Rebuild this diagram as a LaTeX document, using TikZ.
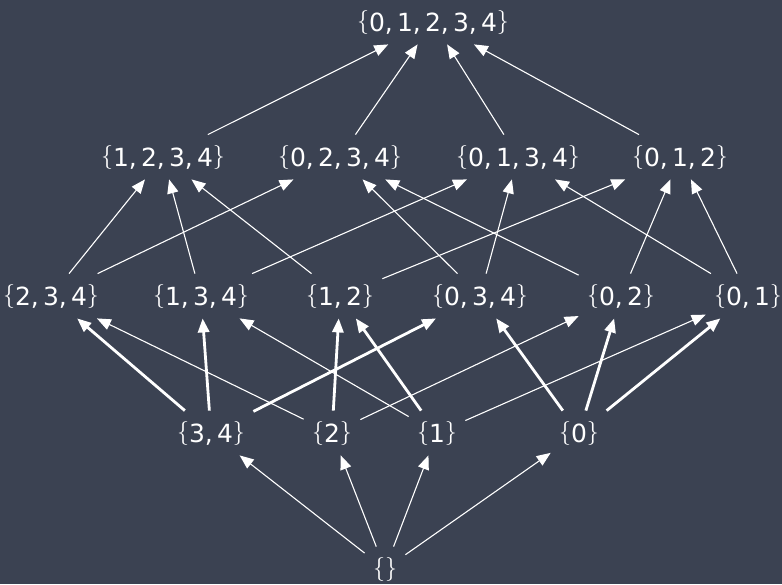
\documentclass[tikz,border=0pt]{standalone}
\usepackage{fontspec}
\setmainfont{DejaVu Sans}
\usetikzlibrary{arrows.meta}

\definecolor{bgslate}{HTML}{3B4252}
\newcommand{\sset}[1]{\raisebox{1.5pt}{$\{$}#1\raisebox{1.5pt}{$\}$}}

\begin{document}
\begin{tikzpicture}[
    x=0.5pt, y=-0.5pt,
    setnode/.style={rectangle, text=white, inner xsep=4pt, minimum height=22pt,
                    font=\fontsize{12.5}{14}\selectfont},
    arrow/.style={draw=white, line width=0.55pt, -{Triangle[length=7pt,width=5.6pt]}},
    heavy/.style={arrow, line width=1.4pt}
]
\useasboundingbox[fill=bgslate] (0,0) rectangle (782,584);

\node[setnode] (s01234) at (433,22) {\sset{0,\,1,\,2,\,3,\,4}};

\node[setnode] (s1234) at (163,157) {\sset{1,\,2,\,3,\,4}};
\node[setnode] (s0234) at (340,157) {\sset{0,\,2,\,3,\,4}};
\node[setnode] (s0134) at (518,157) {\sset{0,\,1,\,3,\,4}};
\node[setnode] (s012)  at (680,157) {\sset{0,\,1,\,2}};

\node[setnode] (s234) at (51,296)  {\sset{2,\,3,\,4}};
\node[setnode] (s134) at (201,296) {\sset{1,\,3,\,4}};
\node[setnode] (s12)  at (340,296) {\sset{1,\,2}};
\node[setnode] (s034) at (480,296) {\sset{0,\,3,\,4}};
\node[setnode] (s02)  at (621,296) {\sset{0,\,2}};
\node[setnode] (s01)  at (748,296) {\sset{0,\,1}};

\node[setnode] (s34) at (211,433) {\sset{3,\,4}};
\node[setnode] (s2)  at (332,433) {\sset{2}};
\node[setnode] (s1)  at (437,433) {\sset{1}};
\node[setnode] (s0)  at (579,433) {\sset{0}};

\node[setnode] (sE) at (385,569) {\sset{}};

\draw[arrow] (s1234) -- (s01234);
\draw[arrow] (s0234) -- (s01234);
\draw[arrow] (s0134) -- (s01234);
\draw[arrow] (s012) -- (s01234);

\draw[arrow] (s234) -- (s1234);
\draw[arrow] (s234) -- (s0234);
\draw[arrow] (s134) -- (s1234);
\draw[arrow] (s134) -- (s0134);
\draw[arrow] (s12) -- (s1234);
\draw[arrow] (s12) -- (s012);
\draw[arrow] (s034) -- (s0234);
\draw[arrow] (s034) -- (s0134);
\draw[arrow] (s02) -- (s0234);
\draw[arrow] (s02) -- (s012);
\draw[arrow] (s01) -- (s0134);
\draw[arrow] (s01) -- (s012);

\draw[heavy] (s34) -- (s234);
\draw[heavy] (s34) -- (s134);
\draw[heavy] (s34) -- (s034);
\draw[arrow] (s2) -- (s234);
\draw[heavy] (s2) -- (s12);
\draw[arrow] (s2) -- (s02);
\draw[arrow] (s1) -- (s134);
\draw[heavy] (s1) -- (s12);
\draw[arrow] (s1) -- (s01);
\draw[heavy] (s0) -- (s034);
\draw[heavy] (s0) -- (s02);
\draw[heavy] (s0) -- (s01);

\draw[arrow] (sE) -- (s34);
\draw[arrow] (sE) -- (s2);
\draw[arrow] (sE) -- (s1);
\draw[arrow] (sE) -- (s0);
\end{tikzpicture}
\end{document}
